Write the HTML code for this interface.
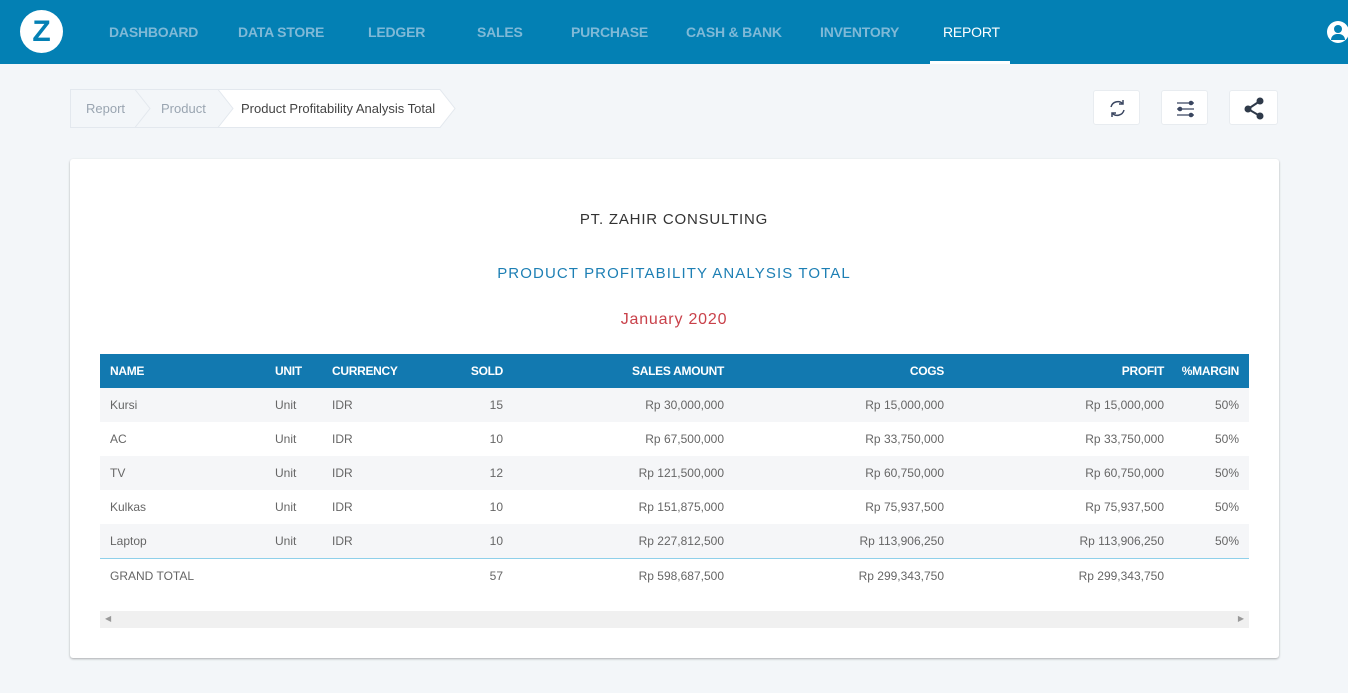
<!DOCTYPE html>
<html><head><meta charset="utf-8"><style>
*{margin:0;padding:0;box-sizing:border-box}
body{width:1348px;height:693px;background:#f3f6f9;font-family:"Liberation Sans",sans-serif;position:relative;overflow:hidden}
.nav{position:absolute;left:0;top:0;width:1348px;height:64px;background:#0380b4}
.logo{position:absolute;left:20px;top:10px;width:43px;height:43px;border-radius:50%;background:#fff;color:#0380b4;font-weight:bold;font-size:30px;text-align:center;line-height:43px}
.ni{position:absolute;top:24px;font-size:14px;font-weight:bold;color:#7fb9d7;letter-spacing:-.2px}
.btn{position:absolute;top:90px;width:47px;height:35px;background:#fff;border:1px solid #e8ecf0;border-radius:3px}
.card{position:absolute;left:70px;top:159px;width:1209px;height:499px;background:#fff;border-radius:3px;box-shadow:0 1px 2px rgba(0,0,0,.3)}
.t{position:absolute;width:1348px;left:0;text-align:center;font-size:15px;letter-spacing:.8px}
.row{position:absolute;left:100px;width:1149px;height:34px;font-size:12px;color:#666}
.row span{position:absolute;top:10px}
.hd{background:#1279b0;color:#fff;font-weight:bold;letter-spacing:-.3px}
</style></head><body>
<div class="nav">
<div class="logo">Z</div>
<div class="ni" style="left:109px">DASHBOARD</div>
<div class="ni" style="left:238px">DATA STORE</div>
<div class="ni" style="left:368px">LEDGER</div>
<div class="ni" style="left:477px">SALES</div>
<div class="ni" style="left:571px">PURCHASE</div>
<div class="ni" style="left:686px">CASH &amp; BANK</div>
<div class="ni" style="left:820px">INVENTORY</div>
<div class="ni" style="left:943px;color:#fff;font-weight:normal">REPORT</div>
<div style="position:absolute;left:930px;top:61px;width:80px;height:3px;background:#fff"></div>
<div style="position:absolute;left:1327px;top:21px;width:22px;height:22px;border-radius:50%;background:#fff"><div style="position:absolute;left:7px;top:4px;width:8px;height:8px;border-radius:50%;background:#0380b4"></div><div style="position:absolute;left:4px;top:13px;width:14px;height:6px;border-radius:6px 6px 0 0;background:#0380b4"></div></div>
</div>
<svg style="position:absolute;left:70px;top:89px" width="400" height="40">
<polygon points="0.5,0.5 370,0.5 385,19.5 370,38.5 0.5,38.5" fill="#fff" stroke="#e3e8ee"/>
<polygon points="0.5,0.5 148,0.5 163,19.5 148,38.5 0.5,38.5" fill="#f3f6f9" stroke="#e3e8ee"/>
<polyline points="65,0.5 80,19.5 65,38.5" fill="none" stroke="#e3e8ee"/>
<text x="16" y="24" font-size="13" fill="#9aa5b1" font-family="Liberation Sans">Report</text>
<text x="91" y="24" font-size="13" fill="#9aa5b1" font-family="Liberation Sans">Product</text>
<text x="171" y="24" font-size="13" fill="#444" font-family="Liberation Sans">Product Profitability Analysis Total</text>
</svg>
<div class="btn" style="left:1093px"><svg width="47" height="35"><path d="M17 16a7 7 0 0 1 12-3M30 19a7 7 0 0 1-12 3" fill="none" stroke="#3a4660" stroke-width="1.5"/><path d="M29 9v4h-4M18 26v-4h4" fill="none" stroke="#3a4660" stroke-width="1.5"/></svg></div>
<div class="btn" style="left:1161px"><svg width="47" height="35"><g stroke="#3a4660" stroke-width="1.3"><line x1="15" y1="12" x2="32" y2="12"/><line x1="15" y1="18" x2="32" y2="18"/><line x1="15" y1="24" x2="32" y2="24"/></g><g fill="#3a4660"><circle cx="29" cy="12" r="2.3"/><circle cx="18" cy="18" r="2.3"/><circle cx="29" cy="24" r="2.3"/></g></svg></div>
<div class="btn" style="left:1229px;width:49px"><svg width="49" height="35"><g fill="#2f3a4a"><circle cx="30" cy="10" r="3.5"/><circle cx="18" cy="18" r="3.5"/><circle cx="30" cy="25" r="3.5"/></g><path d="M30 10L18 18L30 25" stroke="#2f3a4a" stroke-width="2" fill="none"/></svg></div>
<div class="card"></div>
<div class="t" style="top:211px;color:#333">PT. ZAHIR CONSULTING</div>
<div class="t" style="top:265px;color:#1d7fb4;letter-spacing:1.1px">PRODUCT PROFITABILITY ANALYSIS TOTAL</div>
<div class="t" style="top:311px;color:#c9414a;font-size:16px">January 2020</div>
<div class="row hd" style="top:354px;color:#fff"><span style="left:10px">NAME</span><span style="left:175px">UNIT</span><span style="left:232px">CURRENCY</span><span style="right:746px">SOLD</span><span style="right:525px">SALES AMOUNT</span><span style="right:305px">COGS</span><span style="right:85px">PROFIT</span><span style="right:10px">%MARGIN</span></div>
<div class="row" style="top:388px;background:#f5f6f8"><span style="left:10px">Kursi</span><span style="left:175px">Unit</span><span style="left:232px">IDR</span><span style="right:746px">15</span><span style="right:525px">Rp 30,000,000</span><span style="right:305px">Rp 15,000,000</span><span style="right:85px">Rp 15,000,000</span><span style="right:10px">50%</span></div>
<div class="row" style="top:422px"><span style="left:10px">AC</span><span style="left:175px">Unit</span><span style="left:232px">IDR</span><span style="right:746px">10</span><span style="right:525px">Rp 67,500,000</span><span style="right:305px">Rp 33,750,000</span><span style="right:85px">Rp 33,750,000</span><span style="right:10px">50%</span></div>
<div class="row" style="top:456px;background:#f5f6f8"><span style="left:10px">TV</span><span style="left:175px">Unit</span><span style="left:232px">IDR</span><span style="right:746px">12</span><span style="right:525px">Rp 121,500,000</span><span style="right:305px">Rp 60,750,000</span><span style="right:85px">Rp 60,750,000</span><span style="right:10px">50%</span></div>
<div class="row" style="top:490px"><span style="left:10px">Kulkas</span><span style="left:175px">Unit</span><span style="left:232px">IDR</span><span style="right:746px">10</span><span style="right:525px">Rp 151,875,000</span><span style="right:305px">Rp 75,937,500</span><span style="right:85px">Rp 75,937,500</span><span style="right:10px">50%</span></div>
<div class="row" style="top:524px;background:#f5f6f8;border-bottom:1px solid #8fd0ea;height:35px"><span style="left:10px">Laptop</span><span style="left:175px">Unit</span><span style="left:232px">IDR</span><span style="right:746px">10</span><span style="right:525px">Rp 227,812,500</span><span style="right:305px">Rp 113,906,250</span><span style="right:85px">Rp 113,906,250</span><span style="right:10px">50%</span></div>
<div class="row" style="top:559px"><span style="left:10px">GRAND TOTAL</span><span style="right:746px">57</span><span style="right:525px">Rp 598,687,500</span><span style="right:305px">Rp 299,343,750</span><span style="right:85px">Rp 299,343,750</span></div>
<div style="position:absolute;left:100px;top:611px;width:1149px;height:17px;background:#f0f0f0"><span style="position:absolute;left:5px;top:3px;font-size:8px;color:#999">◀</span><span style="position:absolute;right:5px;top:3px;font-size:8px;color:#999">▶</span></div>
</body></html>
